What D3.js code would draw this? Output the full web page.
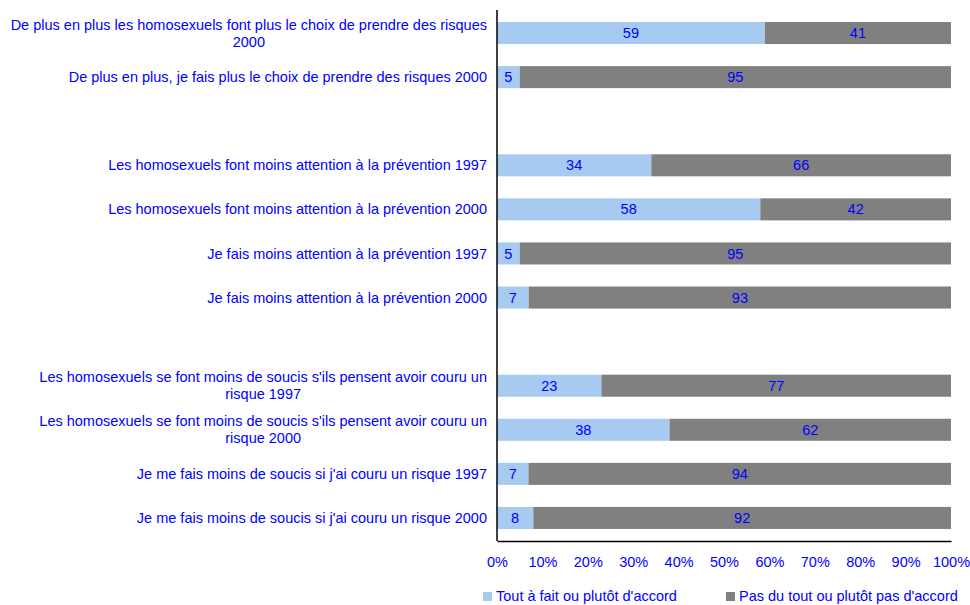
<!DOCTYPE html>
<html>
<head>
<meta charset="utf-8">
<script src="https://cdn.jsdelivr.net/npm/d3@7"></script>
<style>
  html, body { margin: 0; padding: 0; background: #fff; }
  svg { display: block; font-family: "Liberation Sans", Arial, sans-serif; }
</style>
</head>
<body>
<svg id="chart" width="970" height="605"></svg>
<script>
// Survey statements, top to bottom; empty strings are spacer rows between groups
const categories = [
  "De plus en plus les homosexuels font plus le choix de prendre des risques 2000",
  "De plus en plus, je fais plus le choix de prendre des risques 2000",
  "",
  "Les homosexuels font moins attention à la prévention 1997",
  "Les homosexuels font moins attention à la prévention 2000",
  "Je fais moins attention à la prévention 1997",
  "Je fais moins attention à la prévention 2000",
  "",
  "Les homosexuels se font moins de soucis s'ils pensent avoir couru un risque 1997",
  "Les homosexuels se font moins de soucis s'ils pensent avoir couru un risque 2000",
  "Je me fais moins de soucis si j'ai couru un risque 1997",
  "Je me fais moins de soucis si j'ai couru un risque 2000"
];
const agree    = [59, 5, null, 34, 58, 5, 7, null, 23, 38, 7, 8];
const disagree = [41, 95, null, 66, 42, 95, 93, null, 77, 62, 94, 92];
const seriesNames = ["Tout à fait ou plutôt d'accord", "Pas du tout ou plutôt pas d'accord"];
const tickValues = [0, 0.1, 0.2, 0.3, 0.4, 0.5, 0.6, 0.7, 0.8, 0.9, 1];

const colors = ["#a6caf0", "#808080"];
const textBlue = "#0000ff";
const fs = 14.5;

const svg = d3.select("#chart");
const margin = { top: 11, right: 19, bottom: 65, left: 497 };
const W = 970, H = 605;
const innerW = W - margin.left - margin.right;
const innerH = H - margin.top - margin.bottom;
const g = svg.append("g").attr("transform", `translate(${margin.left},${margin.top})`);

const rows = categories.map((c, i) => ({ idx: i, label: c, agree: agree[i], disagree: disagree[i] }));
const dataRows = rows.filter(r => r.agree != null);

const y = d3.scaleBand().domain(rows.map(r => r.idx)).range([0, innerH]).paddingInner(0.5).paddingOuter(0.25);
const x = d3.scaleLinear().domain([0, 1]).range([0, innerW]);

const stack = d3.stack().keys(["agree", "disagree"]).offset(d3.stackOffsetExpand);
const layers = stack(dataRows);

layers.forEach((layer, li) => {
  const sel = g.append("g").selectAll("g").data(layer).join("g");
  sel.append("rect")
    .attr("x", d => x(d[0]))
    .attr("y", d => y(d.data.idx))
    .attr("width", d => x(d[1]) - x(d[0]))
    .attr("height", y.bandwidth())
    .attr("fill", colors[li]);
  sel.append("text")
    .attr("x", d => (x(d[0]) + x(d[1])) / 2)
    .attr("y", d => y(d.data.idx) + y.bandwidth() / 2)
    .attr("dy", "0.35em")
    .attr("text-anchor", "middle")
    .attr("font-size", fs)
    .attr("fill", textBlue)
    .text(d => d.data[layer.key]);
});

// Category labels, wrapped; a wrapped block is right-aligned with its lines centred
const labelG = g.append("g");
const maxW = 486;
dataRows.forEach(r => {
  const t = labelG.append("text")
    .attr("font-size", fs)
    .attr("fill", textBlue)
    .attr("text-anchor", "end");
  const words = r.label.split(" ");
  const lines = [];
  let cur = [];
  const probe = t.append("tspan");
  words.forEach(w => {
    const test = cur.concat([w]).join(" ");
    probe.text(test);
    if (probe.node().getComputedTextLength() > maxW && cur.length) {
      lines.push(cur.join(" "));
      cur = [w];
    } else cur.push(w);
  });
  lines.push(cur.join(" "));
  probe.remove();
  const lh = 17;
  const cy = y(r.idx) + y.bandwidth() / 2;
  const y0 = cy - (lines.length - 1) * lh / 2;
  if (lines.length === 1) {
    t.append("tspan").attr("x", -10).attr("y", y0).attr("dy", "0.35em").text(lines[0]);
  } else {
    const widths = lines.map(l => { const s = t.append("tspan").text(l); const w = s.node().getComputedTextLength(); s.remove(); return w; });
    const bw = d3.max(widths);
    t.attr("text-anchor", "middle");
    lines.forEach((l, i) => {
      t.append("tspan").attr("x", -10 - bw / 2).attr("y", y0 + i * lh).attr("dy", "0.35em").text(l);
    });
  }
});

// Axes
const xAxis = d3.axisBottom(x).tickValues(tickValues).tickFormat(d3.format(".0%")).tickSize(0).tickPadding(16);
const xg = g.append("g").attr("transform", `translate(0,${innerH + 1})`).call(xAxis);
xg.select(".domain").attr("stroke", "#000").attr("stroke-width", 1.5);
xg.selectAll("text").attr("font-size", fs).attr("fill", textBlue).attr("font-family", "Liberation Sans, Arial, sans-serif");

g.append("line")
  .attr("x1", 0).attr("x2", 0)
  .attr("y1", -1).attr("y2", innerH + 1)
  .attr("stroke", "#000").attr("stroke-width", 1.5);

// Legend
const legendX = [483, 726];
seriesNames.forEach((name, i) => {
  const lg = svg.append("g").attr("transform", `translate(${legendX[i]},592)`);
  lg.append("rect").attr("x", 0).attr("y", 0).attr("width", 9).attr("height", 9).attr("fill", colors[i]);
  lg.append("text").attr("x", 13).attr("y", 9).attr("font-size", fs).attr("fill", textBlue).text(name);
});
</script>
</body>
</html>
